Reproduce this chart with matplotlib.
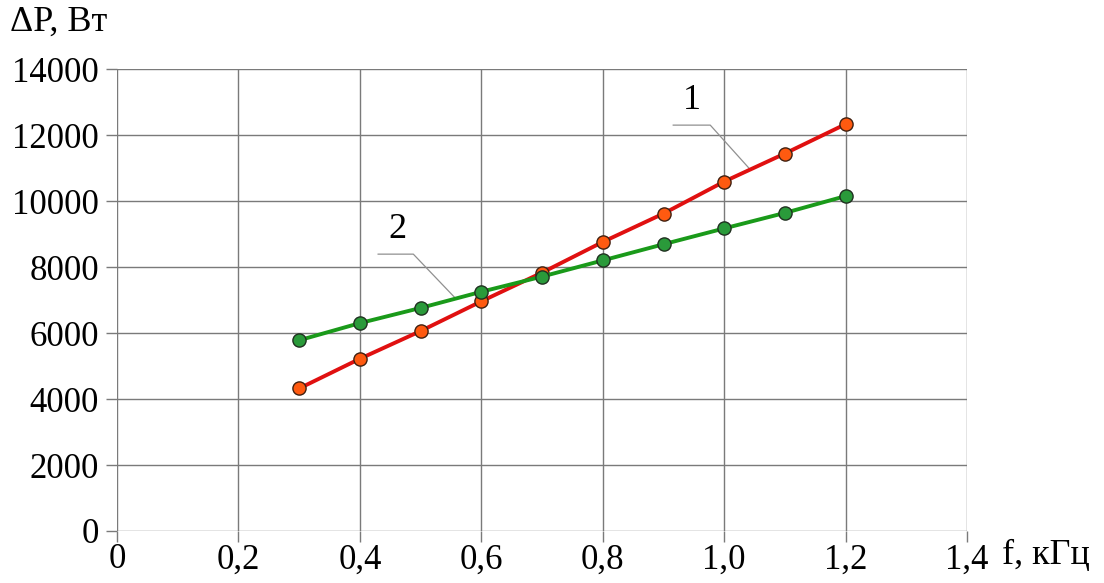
import matplotlib
matplotlib.use("Agg")
import matplotlib.pyplot as plt
from matplotlib.ticker import FuncFormatter

f_khz = [0.3, 0.4, 0.5, 0.6, 0.7, 0.8, 0.9, 1.0, 1.1, 1.2]
dp_1 = [4320, 5220, 6060, 6960, 7830, 8760, 9620, 10590, 11440, 12330]
dp_2 = [5780, 6300, 6760, 7250, 7710, 8200, 8690, 9170, 9640, 10150]

x_ticks = [0, 0.2, 0.4, 0.6, 0.8, 1.0, 1.2, 1.4]
y_ticks = [0, 2000, 4000, 6000, 8000, 10000, 12000, 14000]

plt.rcParams["font.family"] = ["Liberation Serif", "DejaVu Serif"]

fig = plt.figure(figsize=(11.04, 5.83), dpi=100)
ax = fig.add_axes([0.106, 0.0892, 0.770, 0.7924])

ax.plot(f_khz, dp_1, color="#e01010", lw=2.8, zorder=3,
        marker="o", ms=9.5, mfc="#ff5a10", mec="#402010", mew=1.0)
ax.plot(f_khz, dp_2, color="#1a9a1a", lw=2.8, zorder=3,
        marker="o", ms=9.5, mfc="#2a9a3a", mec="#203020", mew=1.0)

ax.set_xlim(0, 1.4)
ax.set_ylim(0, 14000)
ax.set_xticks(x_ticks)
ax.set_yticks(y_ticks)
ax.xaxis.set_major_formatter(FuncFormatter(
    lambda v, p: "0" if v == 0 else f"{v:.1f}".replace(".", ",")))
ax.grid(True, color="#7a7a7a", lw=1.0)
for s in ax.spines.values():
    s.set_visible(False)
ax.tick_params(length=8, width=1.0, color="#7a7a7a", labelsize=25)
ax.tick_params(axis="y", pad=5)
ax.tick_params(axis="x", pad=1)

# leader lines and curve numbers
ax.plot([0.916, 0.977, 1.043], [12300, 12300, 10950], color="#909090", lw=0.9, zorder=2)
ax.text(0.947, 12550, "1", fontsize=26, ha="center", va="bottom")
ax.plot([0.430, 0.488, 0.557], [8390, 8390, 7060], color="#909090", lw=0.9, zorder=2)
ax.text(0.461, 8650, "2", fontsize=26, ha="center", va="bottom")

fig.text(0.009, 0.962, "ΔP, Вт", fontsize=26, ha="left", va="center")
fig.text(0.908, 0.048, "f, кГц", fontsize=26, ha="left", va="center")

fig.savefig("out.png", dpi=100)
